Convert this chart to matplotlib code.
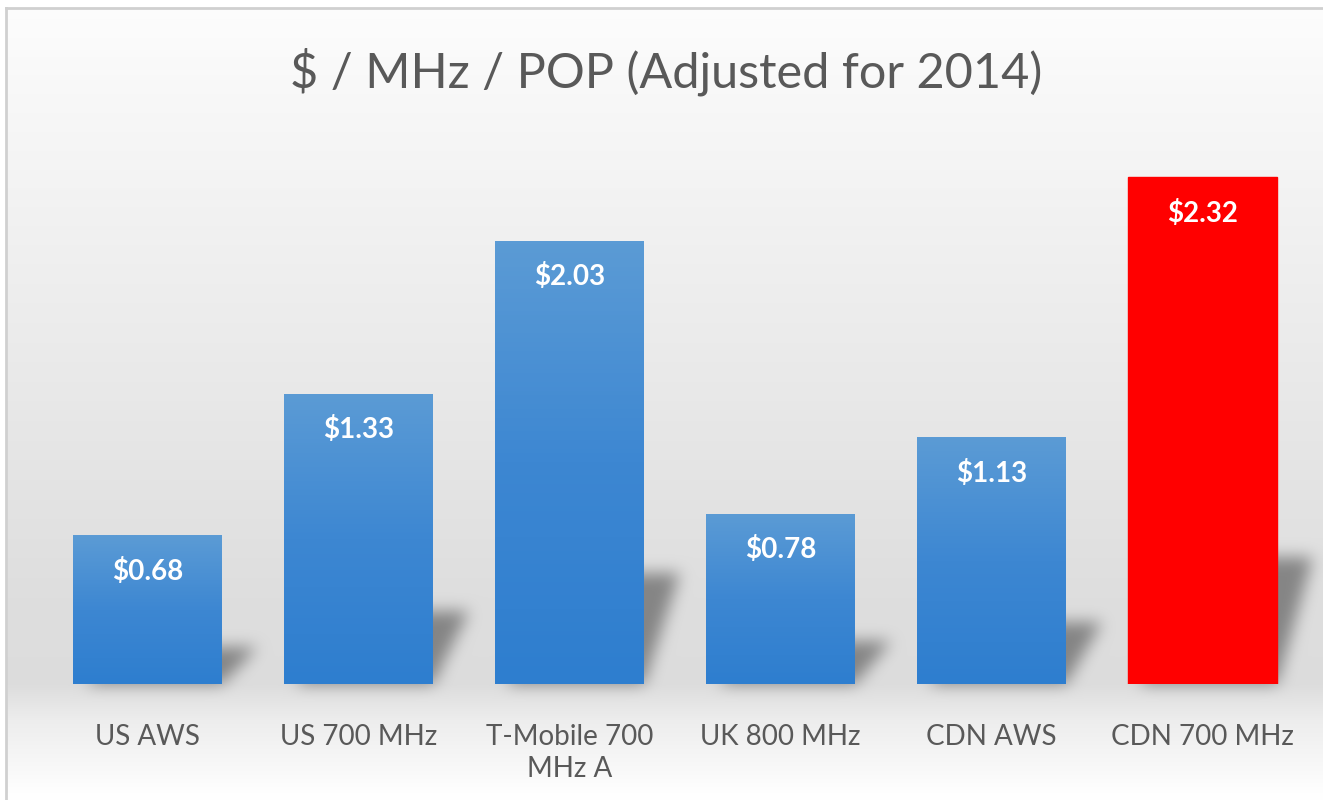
import numpy as np
import matplotlib.pyplot as plt
from matplotlib.colors import LinearSegmentedColormap
from matplotlib.patches import Rectangle
from matplotlib.path import Path

categories = ['US AWS', 'US 700 MHz', 'T-Mobile 700\nMHz A', 'UK 800 MHz', 'CDN AWS', 'CDN 700 MHz']
values = [0.68, 1.33, 2.03, 0.78, 1.13, 2.32]
labels = ['$0.68', '$1.33', '$2.03', '$0.78', '$1.13', '$2.32']
highlight = 'CDN 700 MHz'

plt.rcParams['font.family'] = ['Lato', 'DejaVu Sans']

W, H = 1323, 800
fig = plt.figure(figsize=(W / 100, H / 100), dpi=100)

ax = fig.add_axes([0.0317, 0.145, 0.957, 0.6825])
ax.set_facecolor('none')
x = np.arange(len(values))
width = 0.705
ax.set_xlim(-0.5, len(values) - 0.5)
ax.set_ylim(0, 2.5)

bars = ax.bar(x, values, width, color='none', zorder=3)


def box_blur(a, r, n=3):
    # repeated separable box blur ~ gaussian
    for _ in range(n):
        for axis in (0, 1):
            pad = [(0, 0), (0, 0)]
            pad[axis] = (r + 1, r)
            c = np.cumsum(np.pad(a, pad, mode='edge'), axis=axis)
            if axis == 0:
                a = (c[2 * r + 1:, :] - c[:-2 * r - 1, :]) / (2 * r + 1)
            else:
                a = (c[:, 2 * r + 1:] - c[:, :-2 * r - 1]) / (2 * r + 1)
    return a


# background gradient (rows from top of figure)
stops_y = [0, 10, 250, 600, 684, 720, 790, 800]
stops_c = [1.0, 0.99, 0.94, 0.87, 0.865, 0.93, 0.995, 1.0]
rows = np.interp(np.arange(H), stops_y, stops_c)
shade = np.repeat(rows.reshape(-1, 1), W, axis=1)

# soft perspective shadows behind the bars, positioned via the data transform
yy, xx = np.mgrid[0:H, 0:W]
mask = np.zeros((H, W))
for bar, v in zip(bars, values):
    left = bar.get_x()
    right = left + bar.get_width()
    poly = [(left + 0.06, 0), (right, 0), (right + 0.17, 0.25 * v), (left + 0.23, 0.25 * v)]
    path = Path(ax.transData.transform(poly))
    bb = path.get_extents()
    x0, x1 = int(max(bb.x0 - 2, 0)), int(min(bb.x1 + 2, W))
    r0, r1 = int(max(H - bb.y1 - 2, 0)), int(min(H - bb.y0 + 2, H))
    sub = np.column_stack([xx[r0:r1, x0:x1].ravel() + 0.5, H - yy[r0:r1, x0:x1].ravel() - 0.5])
    inside = path.contains_points(sub).reshape(r1 - r0, x1 - x0)
    mask[r0:r1, x0:x1] = np.maximum(mask[r0:r1, x0:x1], inside)
mask = box_blur(mask, 7)
shade = shade * (1 - 0.4 * mask)

bg = fig.add_axes([0, 0, 1, 1], zorder=-10)
img = np.dstack([shade, shade, shade])
bg.imshow(img, extent=[0, W, H, 0], aspect='auto', interpolation='nearest')
bg.set_xlim(0, W)
bg.set_ylim(H, 0)
bg.add_patch(Rectangle((0, 0), W, 8, color='white', zorder=2))
bg.add_patch(Rectangle((0, 0), 6, H, color='white', zorder=2))
bg.plot([6, 6], [8, H], color='#d0d0d0', lw=2, zorder=3)
bg.plot([6, W], [8, 8], color='#d0d0d0', lw=2, zorder=3)
bg.axis('off')

blue = LinearSegmentedColormap.from_list('blue', ['#2e7ecf', '#3d87d2', '#5b9bd5'])
for i, (bar, v, cat) in enumerate(zip(bars, values, categories)):
    left = bar.get_x()
    right = left + bar.get_width()
    if cat == highlight:
        ax.add_patch(Rectangle((left, 0), bar.get_width(), v, color='#ff0000', zorder=4))
    else:
        im = ax.imshow(np.linspace(0, 1, 100).reshape(-1, 1), cmap=blue,
                       extent=[left, right, 0, v], aspect='auto', zorder=4, origin='lower')
        im.set_clip_path(Rectangle((left, 0), bar.get_width(), v, transform=ax.transData))
    ax.text(i, v - 0.165, labels[i], ha='center', va='center', color='white',
            fontsize=20, fontweight='bold', zorder=5)

ax.set_xlim(-0.5, len(values) - 0.5)
ax.set_ylim(0, 2.5)
ax.set_xticks(x)
ax.set_xticklabels(categories, fontsize=20, color='#595959', linespacing=1.25, va='top')
ax.tick_params(axis='x', length=0, pad=29)
ax.set_yticks([])
for s in ax.spines.values():
    s.set_visible(False)

fig.text(0.5035, 0.91, '$ / MHz / POP (Adjusted for 2014)', ha='center', va='center',
         fontsize=35, color='#595959')

fig.savefig('out.png', dpi=100)
